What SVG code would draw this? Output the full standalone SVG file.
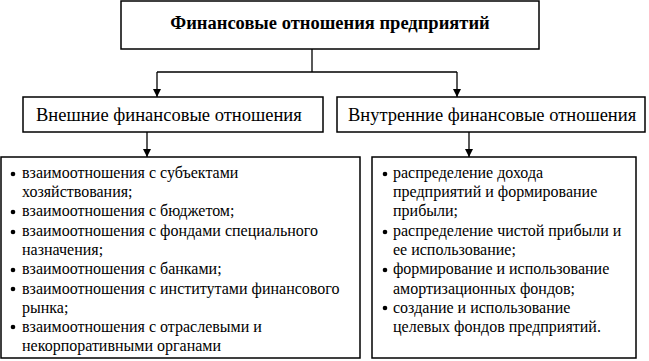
<svg xmlns="http://www.w3.org/2000/svg" width="649" height="361" viewBox="0 0 649 361">
<defs>
<marker id="arr" markerWidth="8" markerHeight="10" refX="8" refY="5" orient="auto" markerUnits="userSpaceOnUse">
<path d="M0,1 L8,5 L0,9 Z" fill="#000"/>
</marker>
<style>
.box{fill:#fff;stroke:#000;stroke-width:1.5}
.conn{fill:none;stroke:#000;stroke-width:1.3}
</style>
</defs>
<rect width="649" height="361" fill="#fff"/>
<g id="connectors">
<path class="conn" d="M312,49 V72 M157,72 H457"/>
<path class="conn" d="M157,72 V97" marker-end="url(#arr)"/>
<path class="conn" d="M457,72 V97" marker-end="url(#arr)"/>
<path class="conn" d="M147,132 V157" marker-end="url(#arr)"/>
<path class="conn" d="M469,132 V157" marker-end="url(#arr)"/>
</g>
<g id="root">
<rect class="box" x="121" y="1" width="418" height="48"/>
<text font-family="Liberation Serif" font-weight="bold" font-size="18.5" x="330" y="29" text-anchor="middle">Финансовые отношения предприятий</text>
</g>
<g id="external">
<rect class="box" x="23" y="97" width="300" height="35"/>
<text font-family="Liberation Serif" font-size="18.5" x="36" y="121">Внешние финансовые отношения</text>
</g>
<g id="internal">
<rect class="box" x="337" y="97" width="308" height="35"/>
<text font-family="Liberation Serif" font-size="18.5" x="348" y="121">Внутренние финансовые отношения</text>
</g>
<g id="external-list">
<rect class="box" x="1" y="157" width="359" height="201"/>
<circle cx="13" cy="174" r="2.3"/>
<circle cx="13" cy="212" r="2.3"/>
<circle cx="13" cy="232" r="2.3"/>
<circle cx="13" cy="270" r="2.3"/>
<circle cx="13" cy="289" r="2.3"/>
<circle cx="13" cy="327" r="2.3"/>
<text font-family="Liberation Serif" font-size="16" x="22" y="178">взаимоотношения с субъектами</text>
<text font-family="Liberation Serif" font-size="16" x="22" y="197">хозяйствования;</text>
<text font-family="Liberation Serif" font-size="16" x="22" y="216">взаимоотношения с бюджетом;</text>
<text font-family="Liberation Serif" font-size="16" x="22" y="236">взаимоотношения с фондами специального</text>
<text font-family="Liberation Serif" font-size="16" x="22" y="255">назначения;</text>
<text font-family="Liberation Serif" font-size="16" x="22" y="274">взаимоотношения с банками;</text>
<text font-family="Liberation Serif" font-size="16" x="22" y="294">взаимоотношения с институтами финансового</text>
<text font-family="Liberation Serif" font-size="16" x="22" y="313">рынка;</text>
<text font-family="Liberation Serif" font-size="16" x="22" y="332">взаимоотношения с отраслевыми и</text>
<text font-family="Liberation Serif" font-size="16" x="22" y="351">некорпоративными органами</text>
</g>
<g id="internal-list">
<rect class="box" x="372" y="157" width="264" height="201"/>
<circle cx="385" cy="174" r="2.3"/>
<circle cx="385" cy="232" r="2.3"/>
<circle cx="385" cy="270" r="2.3"/>
<circle cx="385" cy="308" r="2.3"/>
<text font-family="Liberation Serif" font-size="16" x="393" y="178">распределение дохода</text>
<text font-family="Liberation Serif" font-size="16" x="393" y="197">предприятий и формирование</text>
<text font-family="Liberation Serif" font-size="16" x="393" y="216">прибыли;</text>
<text font-family="Liberation Serif" font-size="16" x="393" y="236">распределение чистой прибыли и</text>
<text font-family="Liberation Serif" font-size="16" x="393" y="255">ее использование;</text>
<text font-family="Liberation Serif" font-size="16" x="393" y="274">формирование и использование</text>
<text font-family="Liberation Serif" font-size="16" x="393" y="294">амортизационных фондов;</text>
<text font-family="Liberation Serif" font-size="16" x="393" y="313">создание и использование</text>
<text font-family="Liberation Serif" font-size="16" x="393" y="332">целевых фондов предприятий.</text>
</g>
</svg>
